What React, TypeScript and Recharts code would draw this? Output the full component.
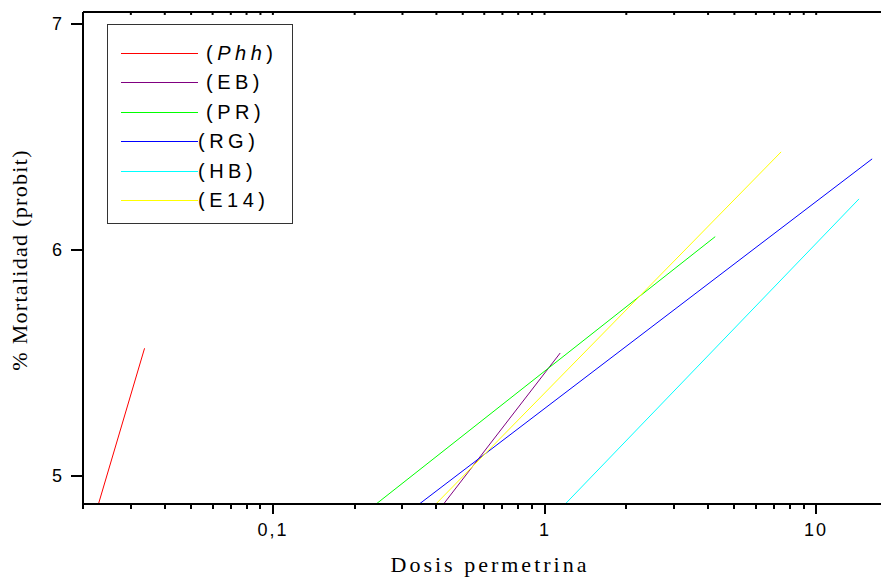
import React from 'react';
import { LineChart, Line, XAxis, YAxis, Legend, Label, ReferenceLine } from 'recharts';

// ---- data ----
const seriesNames = ['Phh', 'EB', 'PR', 'RG', 'HB', 'E14'];
const seriesColors = ['#ff0000', '#800080', '#00ff00', '#0000ff', '#00ffff', '#ffff00'];

const phhDose = [0.0228, 0.0337];
const phhProbit = [4.876, 5.565];
const ebDose = [0.425, 1.142];
const ebProbit = [4.876, 5.544];
const prDose = [0.24, 4.25];
const prProbit = [4.876, 6.059];
const rgDose = [0.346, 16.07];
const rgProbit = [4.876, 6.403];
const hbDose = [1.192, 14.38];
const hbProbit = [4.876, 6.226];
const e14Dose = [0.398, 7.43];
const e14Probit = [4.876, 6.434];

const xMajorTicks = [0.1, 1, 10];
const xMajorLabels = ['0,1', '1', '10'];
const xAllTicks = [
  0.02, 0.03, 0.04, 0.05, 0.06, 0.07, 0.08, 0.09, 0.1,
  0.2, 0.3, 0.4, 0.5, 0.6, 0.7, 0.8, 0.9, 1,
  2, 3, 4, 5, 6, 7, 8, 9, 10,
];
const yTicks = [5, 6, 7];
const xDomain = [0.02, 18.54];
const yDomain = [4.876, 7.053];

const xTitle = 'Dosis permetrina';
const yTitle = '% Mortalidad (probit)';

const pairs = (xs: number[], ys: number[]) => xs.map((x, i) => ({ x, y: ys[i] }));
const seriesData = [
  pairs(phhDose, phhProbit),
  pairs(ebDose, ebProbit),
  pairs(prDose, prProbit),
  pairs(rgDose, rgProbit),
  pairs(hbDose, hbProbit),
  pairs(e14Dose, e14Probit),
];

const SANS = '"Liberation Sans", Arial, sans-serif';
const SERIF = '"Liberation Serif", "Times New Roman", serif';

const XTick = (props: any) => {
  const { x, y, payload } = props;
  const v = payload.value;
  const idx = xMajorTicks.findIndex((m) => Math.abs(m - v) < 1e-9);
  const major = idx >= 0;
  const yy = Number(y);
  const xx = Math.round(Number(x));
  return (
    <g>
      <rect x={xx - 1} y={yy} width={2} height={major ? 10 : 5} fill="#000" />
      {major && (
        <text x={xx} y={yy + 32} textAnchor="middle" fill="#000" stroke="none" fontSize={18} fontFamily={SANS} letterSpacing={2}>
          {xMajorLabels[idx]}
        </text>
      )}
    </g>
  );
};

const renderLegend = () => {
  return (
    <div
      style={{
        position: 'relative',
        width: 186,
        height: 200,
        boxSizing: 'border-box',
        border: '1px solid #333',
        background: '#fff',
      }}
    >
      {seriesNames.map((name, i) => {
        const pad = i < 3;
        return (
          <div
            key={name}
            style={{
              position: 'absolute',
              left: 13,
              top: Math.round(13 + i * 29.4),
              height: 30,
              display: 'flex',
              alignItems: 'center',
              whiteSpace: 'nowrap',
            }}
          >
            <div style={{ width: 77, height: 1, background: seriesColors[i] }} />
            <span
              style={{
                fontFamily: SANS,
                fontSize: 20,
                letterSpacing: 4.5,
                color: '#000',
                marginLeft: pad ? 8 : 0,
              }}
            >
              (
              {name === 'Phh' ? <i>{name}</i> : name}
              )
            </span>
          </div>
        );
      })}
    </div>
  );
};

export default function App() {
  return (
    <LineChart width={881} height={571} margin={{ top: 4, right: 0, bottom: 0, left: 0 }}>
      <XAxis
        dataKey="x"
        type="number"
        scale="log"
        domain={xDomain}
        allowDataOverflow
        ticks={xAllTicks}
        interval={0}
        height={75}
        tickSize={0}
        tickMargin={0}
        tickLine={false}
        tick={<XTick />}
        stroke="#000"
        axisLine={{ stroke: '#000', strokeWidth: 2 }}
        label={
          <Label
            content={(p: any) => {
              const vb = p.viewBox;
              return (
                <text
                  x={vb.x + vb.width / 2 + 4}
                  y={vb.y + 68}
                  textAnchor="middle"
                  fill="#000"
                  fontSize={22}
                  fontFamily={SERIF}
                  letterSpacing={3}
                >
                  {xTitle}
                </text>
              );
            }}
          />
        }
      />
      <YAxis
        type="number"
        domain={yDomain}
        allowDataOverflow
        ticks={yTicks}
        interval={0}
        width={75}
        tickSize={12}
        tickMargin={9}
        stroke="#000"
        tick={{ fill: '#000', fontSize: 18, fontFamily: SANS }}
        tickLine={{ stroke: '#000', strokeWidth: 2 }}
        axisLine={{ stroke: '#000', strokeWidth: 2 }}
        label={
          <Label
            content={(p: any) => {
              const vb = p.viewBox;
              const cy = vb.y + vb.height / 2 + 2;
              return (
                <text
                  transform={`translate(11, ${cy}) rotate(-90)`}
                  textAnchor="middle"
                  dominantBaseline="central"
                  fill="#000"
                  fontSize={22}
                  fontFamily={SERIF}
                  letterSpacing={1.3}
                >
                  {yTitle}
                </text>
              );
            }}
          />
        }
      />
      <ReferenceLine y={yDomain[1]} stroke="#000" strokeWidth={2} ifOverflow="visible" />
      {xAllTicks.map((t) => (
        <ReferenceLine
          key={`top-${t}`}
          segment={[
            { x: t, y: yDomain[1] },
            { x: t, y: yDomain[1] - 0.013 },
          ]}
          stroke="#000"
          strokeWidth={2}
          ifOverflow="visible"
        />
      ))}
      <Legend
        layout="vertical"
        align="center"
        verticalAlign="middle"
        content={renderLegend}
        wrapperStyle={{ left: 99, top: 16, width: 186, height: 200 }}
      />
      {seriesNames.map((n, i) => (
        <Line
          key={n}
          name={n}
          data={seriesData[i]}
          dataKey="y"
          stroke={seriesColors[i]}
          strokeWidth={1}
          dot={false}
          activeDot={false}
          isAnimationActive={false}
          legendType="line"
        />
      ))}
    </LineChart>
  );
}
